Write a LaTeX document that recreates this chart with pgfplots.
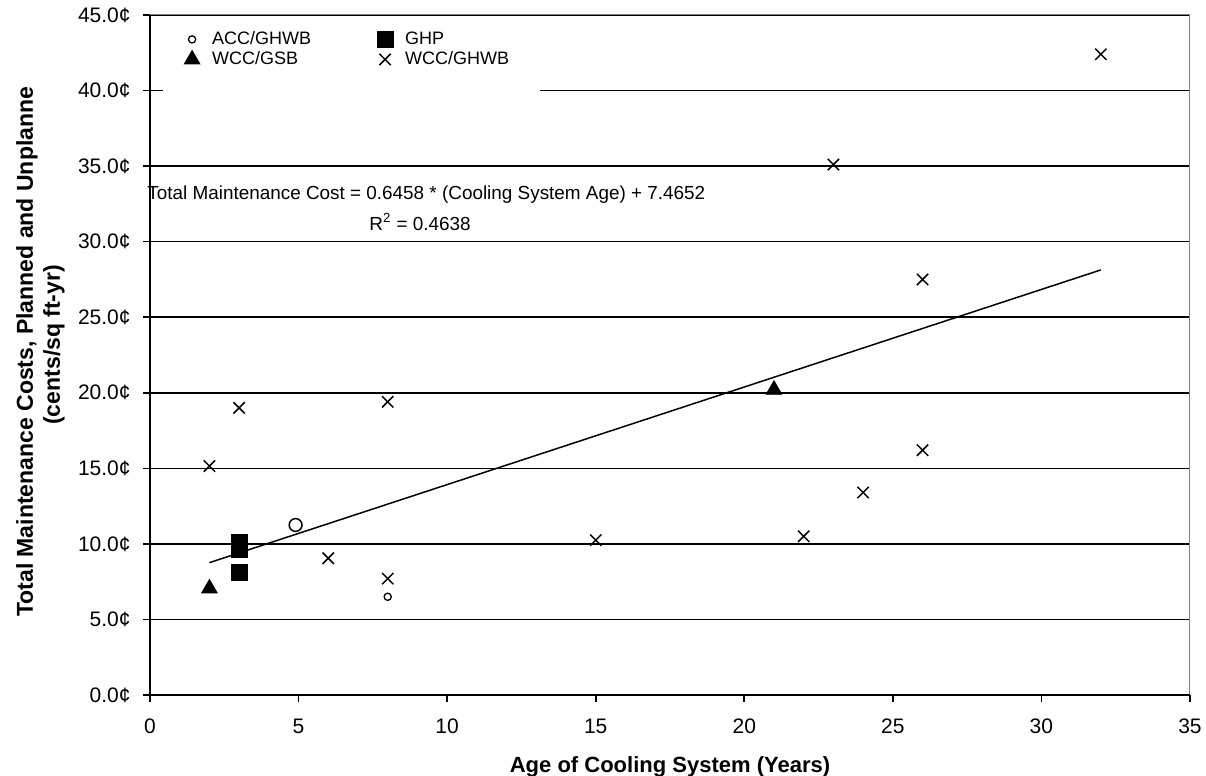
\documentclass[border=0pt]{standalone}
\usepackage{pgfplots}
\pgfplotsset{compat=1.18}
\usepackage{fontspec}
\setmainfont{Liberation Sans}

\begin{document}
\begin{tikzpicture}
\begin{axis}[
  scale only axis, width=520pt, height=340pt,
  xmin=0, xmax=35, ymin=0, ymax=45,
  xtick={0,5,...,35}, ytick={0,5,...,45},
  yticklabels={0.0¢,5.0¢,10.0¢,15.0¢,20.0¢,25.0¢,30.0¢,35.0¢,40.0¢,45.0¢},
  xtick pos=bottom, ytick pos=left,
  tick align=outside, major tick length=3.5pt,
  tick style={black, line width=0.8pt},
  ymajorgrids, grid style={black, line width=0.8pt},
  axis line style={draw=none},
  /pgf/number format/assume math mode=true,
  ticklabel style={font=\fontsize{10.5}{12}\selectfont},
  xticklabel style={anchor=base, inner sep=0pt, yshift=-16pt},
  yticklabel style={anchor=east, inner sep=0pt, xshift=-6pt},
  xlabel={Age of Cooling System (Years)},
  xlabel style={at={(rel axis cs:0.5,0)}, anchor=center, yshift=-36pt, inner sep=0pt,
    font=\fontsize{11}{12}\selectfont\bfseries},
  ylabel={Total Maintenance Costs, Planned and Unplanne\hphantom{d}\\(cents/sq ft-yr)},
  ylabel style={at={(rel axis cs:0,0.515)}, anchor=center, yshift=54.75pt, inner sep=0pt,
    align=center, font=\fontsize{11.5}{13.5}\selectfont\bfseries},
  clip=false,
  legend columns=2,
  legend cell align=left,
  legend image code/.code={%
    \path[draw=none, fill=none] (-4pt,-3pt) rectangle (8pt,3pt);
    \draw[#1] plot coordinates {(0pt,0pt)};},
  legend style={at={(rel axis cs:0,1)}, anchor=north west, xshift=16.85pt, yshift=-6pt,
    draw=none, fill=none, inner sep=0pt, font=\fontsize{9}{10}\selectfont,
    /tikz/every even column/.append style={column sep=31pt},
    row sep=-2pt},
]
\fill[white] (axis cs:0.44,39.85) rectangle (axis cs:13.13,44.95);

\addplot[only marks, mark=o, mark size=1.8pt, black, line width=0.65pt]
  coordinates {(8,6.5)};
\addlegendentry{ACC/GHWB}
\addplot[only marks, mark=square*, mark size=4pt, black]
  coordinates {(3,8.1) (3,9.65) (3,10.1)};
\addlegendentry{GHP}
\addplot[only marks, mark=triangle*, mark size=4.5pt, black]
  coordinates {(2,7.05) (21,20.2)};
\addlegendentry{WCC/GSB}
\addplot[only marks, mark=x, mark size=4pt, black, line width=0.75pt]
  coordinates {(2,15.15) (3,19.0) (8,19.4) (6,9.05) (8,7.7) (15,10.25)
               (22,10.5) (24,13.4) (26,16.2) (26,27.5) (23,35.1) (32,42.4)};
\addlegendentry{WCC/GHWB}

\addplot[only marks, mark=o, mark size=3.2pt, black, line width=0.75pt, forget plot]
  coordinates {(4.9,11.25)};
\addplot[black, line width=0.75pt, no marks, forget plot]
  coordinates {(2,8.7568) (32,28.1308)};

\node[anchor=west, inner sep=0pt, font=\fontsize{9.45}{10}\selectfont] at (axis cs:-0.1,33.1)
  {Total Maintenance Cost = 0.6458 * (Cooling System Age) + 7.4652};
\node[anchor=center, inner sep=0pt, font=\fontsize{9.45}{10}\selectfont] at (axis cs:9.09,31.3)
  {R\textsuperscript{2} = 0.4638};

\draw[gray, line width=0.5pt] (rel axis cs:0,1) -- (rel axis cs:1,1) -- (rel axis cs:1,0);
\draw[black, line width=0.9pt] (rel axis cs:0,1) -- (rel axis cs:0,0) -- (rel axis cs:1,0);
\end{axis}
\pgfresetboundingbox
\path (current axis.south west) ++(-75pt,-40.5pt) rectangle ++(603pt,388pt);
\end{tikzpicture}
\end{document}
